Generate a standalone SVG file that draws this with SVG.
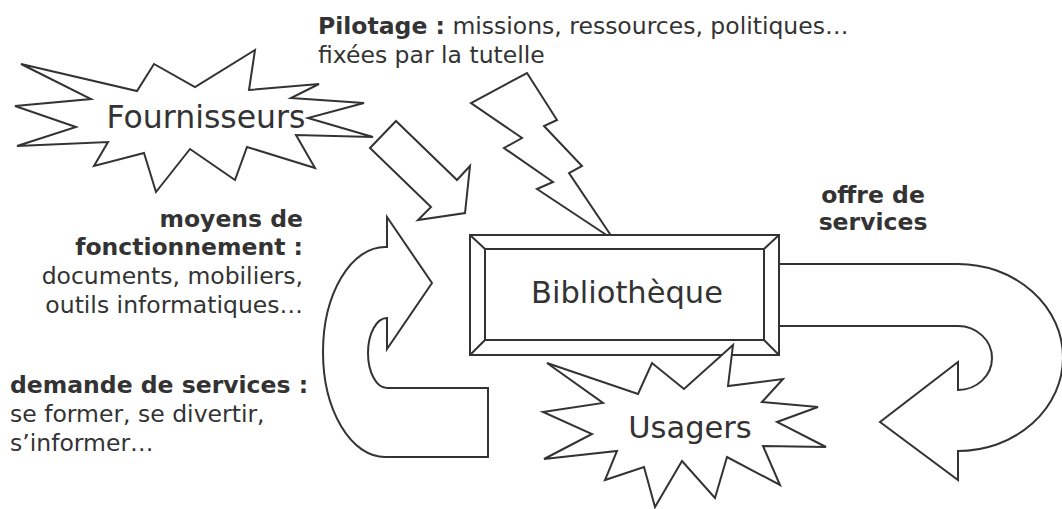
<svg xmlns="http://www.w3.org/2000/svg" width="1062" height="509" viewBox="0 0 1062 509">
<style>
.sh{fill:#fff;stroke:#333;stroke-width:2;stroke-linejoin:miter}
.ln{fill:none;stroke:#333;stroke-width:2}
.t{font-family:"DejaVu Sans","Liberation Sans",sans-serif;fill:#333;font-size:23.5px}
.b{font-weight:bold}
.big{font-family:"DejaVu Sans","Liberation Sans",sans-serif;fill:#333;font-size:30.5px;text-anchor:middle}
</style>
<rect width="1062" height="509" fill="#fff"/>
<g id="connectors">
  <path id="arrow-fournisseurs" class="sh" d="M396,121 L457,180 L470,166 L465,213 L418,220 L431,207 L370,148 Z"/>
  <path id="bolt-pilotage" class="sh" d="M527,73 L557,120 L544,126 L582,166 L569,173 L614,240 L537,189 L553,182 L504,148 L522,138 L471,103 Z"/>
  <path id="arrow-moyens" class="sh" d="M387,217 L432,283 L387,349 L387,318 A19,35 0 0 0 387,388 L488,388 L488,457 L385,457 A62,105 0 0 1 385,247 L387,247 Z"/>
  <path id="arrow-offre" class="sh" d="M779,264 L958,264 A105,93.5 0 0 1 958,451 L958,480 L880,422 L958,362 L958,390 A34,32 0 0 0 958,326 L779,326 Z"/>
</g>
<g id="node-bibliotheque">
  <rect class="sh" x="470" y="235" width="309" height="120"/>
  <rect class="ln" x="485" y="249" width="279" height="91"/>
  <path class="ln" d="M470,235 L485,249 M779,235 L764,249 M470,355 L485,340 M779,355 L764,340"/>
  <text class="big" x="627" y="303">Bibliothèque</text>
</g>
<g id="node-fournisseurs">
  <polygon class="sh" points="21,64 137,91 154,64 195,87 255,50 249,90 319,84 291,98 364,103 308,118 373,137 296,135 315,168 247,147 235,180 190,149 156,192 144,153 94,166 108,142 17,146 76,127 15,106 91,99"/>
  <text class="big" x="206" y="128" style="font-size:31.5px">Fournisseurs</text>
</g>
<g id="node-usagers">
  <polygon class="sh" points="547,363 638,394 652,363 684,389 733,345 728,386 783,379 762,402 818,407 777,422 826,447 763,446 780,485 727,457 715,498 682,461 655,507 644,467 605,480 617,451 544,459 592,434 543,412 603,403"/>
  <text class="big" x="690" y="438">Usagers</text>
</g>
<g id="label-pilotage">
  <text class="t" x="318" y="34"><tspan class="b">Pilotage :</tspan> missions, ressources, politiques…</text>
  <text class="t" x="318" y="63">fixées par la tutelle</text>
</g>
<g id="label-moyens" text-anchor="end">
  <text class="t b" x="303" y="227">moyens de</text>
  <text class="t b" x="303" y="255">fonctionnement :</text>
  <text class="t" x="303" y="284">documents, mobiliers,</text>
  <text class="t" x="303" y="313">outils informatiques…</text>
</g>
<g id="label-demande">
  <text class="t b" x="10" y="393">demande de services :</text>
  <text class="t" x="10" y="422">se former, se divertir,</text>
  <text class="t" x="10" y="451">s’informer…</text>
</g>
<g id="label-offre" text-anchor="middle">
  <text class="t b" x="873" y="203">offre de</text>
  <text class="t b" x="873" y="230">services</text>
</g>
</svg>
